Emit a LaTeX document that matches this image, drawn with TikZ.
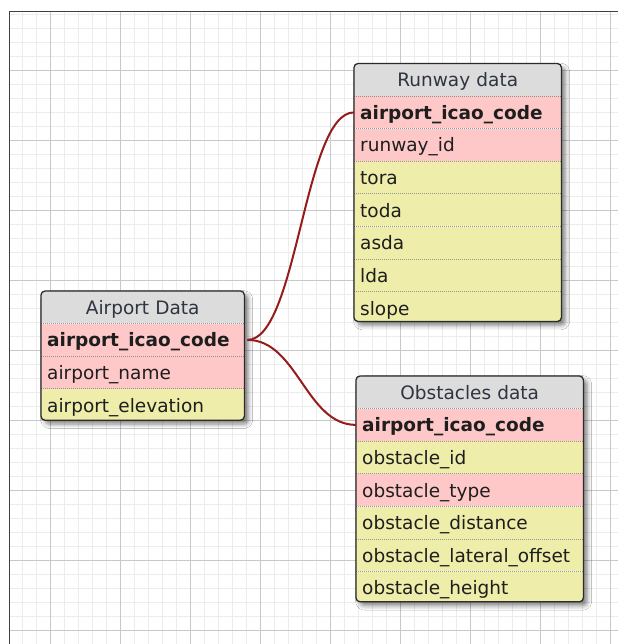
\documentclass[tikz,border=0pt]{standalone}
\usepackage{fontspec}
\setmainfont{DejaVu Sans}
\usetikzlibrary{shadows.blur}
\definecolor{hdrc}{HTML}{DCDCDC}
\definecolor{keyc}{HTML}{FFC8C8}
\definecolor{fldc}{HTML}{EEEEAA}
\definecolor{relc}{HTML}{961C1C}
\definecolor{gminor}{HTML}{ECECEC}
\definecolor{gmajor}{HTML}{C8C8C8}
\definecolor{txtc}{HTML}{1E1E1E}
\definecolor{ttlc}{HTML}{2E3440}
\definecolor{bordc}{HTML}{2B2B2B}
\newcommand\fieldfont{\fontsize{18.5}{22}\selectfont}
\newcommand\keyfont{\fontsize{18.5}{22}\selectfont\bfseries}
\tikzset{
  tbox/.style={fill=white, draw=none, inner sep=0pt, anchor=north west,
    rounded corners=4pt,
    blur shadow={shadow xshift=4pt, shadow yshift=-4pt, shadow blur radius=4.5pt, shadow opacity=50}},
  rowbox/.style={draw=none, inner xsep=6pt, inner ysep=0pt, minimum height=32.2pt,
    text height=16pt, text depth=2pt, anchor=north west, align=left,
    text=txtc, font=\fieldfont},
  hdrbox/.style={rowbox, fill=hdrc, align=center, text=ttlc},
  sepline/.style={draw=gray!85, line width=0.8pt, dash pattern=on 1pt off 1pt},
  tborder/.style={draw=bordc, line width=1.3pt, rounded corners=4pt},
  rel/.style={draw=relc, line width=2pt},
  gminorline/.style={draw=gminor, line width=1pt},
  gmajorline/.style={draw=gmajor, line width=1pt},
  frameline/.style={draw=bordc!90, line width=1.3pt}
}
\begin{document}
\begin{tikzpicture}[x=1pt,y=-1pt]
\useasboundingbox (0,0) rectangle (618,644);
\fill[white] (0,0) rectangle (618,644);
% grid
\begin{scope}
  \clip (9,11) rectangle (618,644);
  \foreach \x in {22,36,...,618} \draw[gminorline] (\x+0.5,11) -- (\x+0.5,644);
  \foreach \y in {14,28,...,644} \draw[gminorline] (9,\y+0.5) -- (618,\y+0.5);
  \foreach \x in {50,120,...,610} \draw[gmajorline] (\x+0.5,11) -- (\x+0.5,644);
  \foreach \y in {70,140,...,630} \draw[gmajorline] (9,\y+0.5) -- (618,\y+0.5);
\end{scope}
\draw[frameline] (9.5,644) -- (9.5,11.5) -- (618,11.5);

% Airport Data
\node[tbox, minimum width=203pt, minimum height=128.8pt] (A) at (41,291) {};
\begin{scope}
  \clip[rounded corners=4pt] (A.north west) rectangle (A.south east);
  \node[hdrbox, text width=191pt] (A0) at (A.north west) {Airport Data};
  \node[rowbox, fill=keyc, text width=191pt, font=\keyfont] (A1) at (A0.south west) {airport\_icao\_code};
  \node[rowbox, fill=keyc, text width=191pt] (A2) at (A1.south west) {airport\_name};
  \node[rowbox, fill=fldc, text width=191pt] (A3) at (A2.south west) {airport\_elevation};
\end{scope}
\foreach \r in {A1,A2,A3} \draw[sepline] (\r.north west) -- (\r.north east);
\draw[tborder] (A.north west) rectangle (A.south east);

% Runway data
\node[tbox, minimum width=207pt, minimum height=257.6pt] (R) at (354,63.5) {};
\begin{scope}
  \clip[rounded corners=4pt] (R.north west) rectangle (R.south east);
  \node[hdrbox, text width=195pt] (R0) at (R.north west) {Runway data};
  \node[rowbox, fill=keyc, text width=195pt, font=\keyfont] (R1) at (R0.south west) {airport\_icao\_code};
  \node[rowbox, fill=keyc, text width=195pt] (R2) at (R1.south west) {runway\_id};
  \node[rowbox, fill=fldc, text width=195pt] (R3) at (R2.south west) {tora};
  \node[rowbox, fill=fldc, text width=195pt] (R4) at (R3.south west) {toda};
  \node[rowbox, fill=fldc, text width=195pt] (R5) at (R4.south west) {asda};
  \node[rowbox, fill=fldc, text width=195pt] (R6) at (R5.south west) {lda};
  \node[rowbox, fill=fldc, text width=195pt] (R7) at (R6.south west) {slope};
\end{scope}
\foreach \r in {R1,R2,R3,R4,R5,R6,R7} \draw[sepline] (\r.north west) -- (\r.north east);
\draw[tborder] (R.north west) rectangle (R.south east);

% Obstacles data
\node[tbox, minimum width=227pt, minimum height=225.4pt] (O) at (356,376) {};
\begin{scope}
  \clip[rounded corners=4pt] (O.north west) rectangle (O.south east);
  \node[hdrbox, text width=215pt] (O0) at (O.north west) {Obstacles data};
  \node[rowbox, fill=keyc, text width=215pt, font=\keyfont] (O1) at (O0.south west) {airport\_icao\_code};
  \node[rowbox, fill=fldc, text width=215pt] (O2) at (O1.south west) {obstacle\_id};
  \node[rowbox, fill=keyc, text width=215pt] (O3) at (O2.south west) {obstacle\_type};
  \node[rowbox, fill=fldc, text width=215pt] (O4) at (O3.south west) {obstacle\_distance};
  \node[rowbox, fill=fldc, text width=215pt] (O5) at (O4.south west) {obstacle\_lateral\_offset};
  \node[rowbox, fill=fldc, text width=215pt] (O6) at (O5.south west) {obstacle\_height};
\end{scope}
\foreach \r in {O1,O2,O3,O4,O5,O6} \draw[sepline] (\r.north west) -- (\r.north east);
\draw[tborder] (O.north west) rectangle (O.south east);

% relations
\coordinate (S) at ([xshift=3pt]A1.east);
\draw[rel] (S) .. controls +(50,0) and +(-50,0) .. (R1.west);
\draw[rel] (S) .. controls +(50,0) and +(-50,0) .. (O1.west);
\end{tikzpicture}
\end{document}
